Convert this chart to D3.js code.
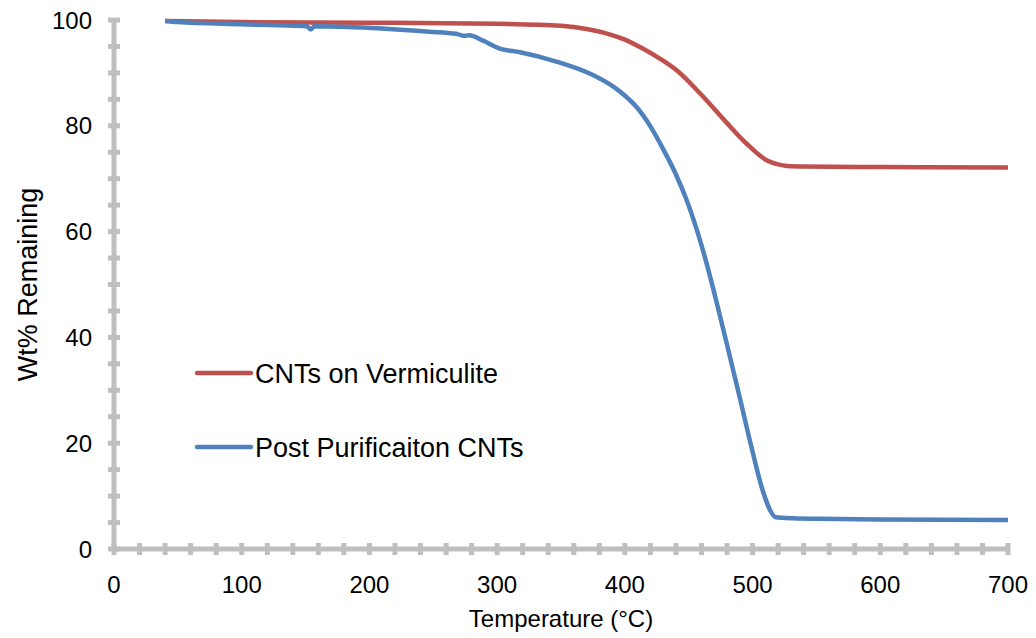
<!DOCTYPE html>
<html>
<head>
<meta charset="utf-8">
<script src="https://cdn.jsdelivr.net/npm/d3@7"></script>
<style>
  body { margin: 0; background: #fff; }
  text { font-family: "Liberation Sans", Arial, sans-serif; fill: #000; }
</style>
</head>
<body>
<svg id="chart" width="1036" height="638"></svg>
<script>
// TGA data (temperature in °C, wt% remaining)
var tempVerm = [40, 100, 200, 300, 350, 370, 388, 400, 414, 428, 441, 459, 480, 495, 511, 520, 527, 540, 600, 700];
var wtVerm   = [99.8, 99.6, 99.5, 99.3, 98.9, 98.3, 97.3, 96.3, 94.6, 92.6, 90.4, 86.1, 80.5, 76.7, 73.5, 72.7, 72.4, 72.3, 72.2, 72.1];

var tempPost = [40, 50, 99, 130, 151, 154, 157, 182, 247, 268, 274, 278, 289, 302, 318, 347, 375, 391, 401, 409,
                420, 430, 440, 448, 456, 464, 472, 480, 490, 499, 508, 514, 518, 532, 553, 600, 700];
var wtPost   = [99.8, 99.6, 99.2, 99.0, 98.8, 98.2, 98.8, 98.7, 97.8, 97.4, 97.0, 97.1, 96.1, 94.6, 93.9, 92.1, 89.6, 87.4, 85.5, 83.6,
                79.9, 75.6, 70.8, 66.2, 60.6, 54.0, 46.5, 38.6, 28.6, 19.4, 11.0, 7.2, 6.0, 5.8, 5.7, 5.6, 5.5];

var seriesNames = ["CNTs on Vermiculite", "Post Purificaiton CNTs"];
var colors = ["#C0504D", "#4F81BD"];

var xTicks = [0, 100, 200, 300, 400, 500, 600, 700];
var yTicks = [0, 20, 40, 60, 80, 100];

var svg = d3.select("#chart");
var axisGray = "#BFBFBF";

var x = d3.scaleLinear().domain([0, 700]).range([114, 1008]);
var y = d3.scaleLinear().domain([0, 100]).range([549, 20]);

// minor ticks (every 20 °C / every 5 %)
var xMinor = d3.range(0, 701, 20);
var yMinor = d3.range(0, 101, 5);

// x axis
var gx = svg.append("g").attr("transform", "translate(0," + y(0) + ")");
gx.append("line")
  .attr("x1", x(0)).attr("x2", x(700))
  .attr("stroke", axisGray).attr("stroke-width", 5);
gx.selectAll("line.tick")
  .data(xMinor)
  .enter().append("line")
  .attr("class", "tick")
  .attr("x1", d => x(d)).attr("x2", d => x(d))
  .attr("y1", -6).attr("y2", 6)
  .attr("stroke", axisGray).attr("stroke-width", 5);
gx.selectAll("text")
  .data(xTicks)
  .enter().append("text")
  .attr("x", d => x(d))
  .attr("y", 44)
  .attr("text-anchor", "middle")
  .style("font-size", "24px")
  .text(d => d);

// y axis
var gy = svg.append("g").attr("transform", "translate(" + x(0) + ",0)");
gy.append("line")
  .attr("y1", y(0)).attr("y2", y(100))
  .attr("stroke", axisGray).attr("stroke-width", 5);
gy.selectAll("line.tick")
  .data(yMinor)
  .enter().append("line")
  .attr("class", "tick")
  .attr("y1", d => y(d)).attr("y2", d => y(d))
  .attr("x1", -6).attr("x2", 6)
  .attr("stroke", axisGray).attr("stroke-width", 5);
gy.selectAll("text")
  .data(yTicks)
  .enter().append("text")
  .attr("x", -22)
  .attr("y", d => y(d))
  .attr("dy", "0.36em")
  .attr("text-anchor", "end")
  .style("font-size", "24px")
  .text(d => d);

// axis titles
svg.append("text")
   .attr("x", x(350))
   .attr("y", 627)
   .attr("text-anchor", "middle")
   .style("font-size", "24px")
   .text("Temperature (°C)");

svg.append("text")
   .attr("transform", "translate(37," + y(50) + ") rotate(-90)")
   .attr("text-anchor", "middle")
   .style("font-size", "27px")
   .text("Wt% Remaining");

// data lines
var line = d3.line()
             .x(d => x(d[0]))
             .y(d => y(d[1]))
             .curve(d3.curveMonotoneX);

var series = [d3.zip(tempVerm, wtVerm), d3.zip(tempPost, wtPost)];

svg.selectAll("path.line")
   .data(series)
   .enter().append("path")
   .attr("class", "line")
   .attr("d", line)
   .attr("fill", "none")
   .attr("stroke", (d, i) => colors[i])
   .attr("stroke-width", 4.5)
   .attr("stroke-linejoin", "round");

// legend
var legend = svg.append("g").attr("transform", "translate(197,373)");
var items = legend.selectAll("g")
                  .data(seriesNames)
                  .enter().append("g")
                  .attr("transform", (d, i) => "translate(0," + i * 74 + ")");
items.append("line")
     .attr("x1", 0).attr("x2", 54)
     .attr("stroke", (d, i) => colors[i])
     .attr("stroke-width", 4.5)
     .attr("stroke-linecap", "round");
items.append("text")
     .attr("x", 58)
     .attr("dy", "0.36em")
     .style("font-size", "27px")
     .text(d => d);
</script>
</body>
</html>
